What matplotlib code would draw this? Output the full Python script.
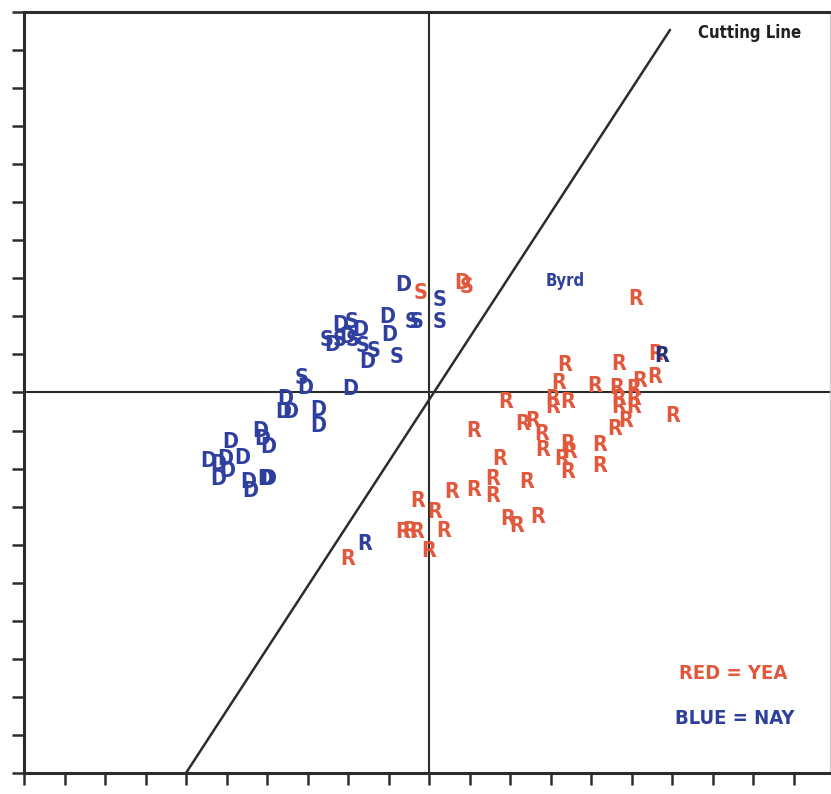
"""
Senate roll-call scatter: spatial positions of senators with the cutting line.
Letters mark party (D / R / S), colour marks the vote (red = yea, blue = nay).
"""

import matplotlib
matplotlib.use("Agg")
import matplotlib.pyplot as plt
import numpy as np


# ============================================================
# Data (first / second dimension coordinates)
# ============================================================

nay_d_x = [-0.064, -0.104, -0.099, -0.220, -0.170, -0.240, -0.202, -0.153,
           -0.306, -0.195, -0.356, -0.360, -0.343, -0.274, -0.274, -0.417,
           -0.412, -0.398, -0.491, -0.504, -0.462, -0.546, -0.521, -0.521,
           -0.499, -0.447, -0.442, -0.405, -0.398]
nay_d_y = [0.283, 0.199, 0.152, 0.178, 0.165, 0.126, 0.147, 0.079,
           0.013, 0.008, -0.018, -0.050, -0.052, -0.045, -0.089, -0.102,
           -0.123, -0.142, -0.131, -0.176, -0.171, -0.181, -0.189, -0.228,
           -0.207, -0.234, -0.260, -0.228, -0.228]

nay_s_x = [0.025, -0.042, -0.030, 0.027, -0.190, -0.252, -0.220, -0.188,
           -0.165, -0.138, -0.079, -0.314]
nay_s_y = [0.244, 0.184, 0.184, 0.184, 0.186, 0.139, 0.139, 0.139,
           0.121, 0.108, 0.092, 0.039]

nay_r_x = [-0.158, 0.575]
nay_r_y = [-0.399, 0.097]

yea_s_x = [-0.020, 0.094]
yea_s_y = [0.262, 0.278]
yea_d_x = [0.081]
yea_d_y = [0.289]

yea_r_x = [0.511, 0.336, 0.467, 0.560, 0.558, 0.521, 0.319, 0.410,
           0.464, 0.504, 0.304, 0.306, 0.341, 0.467, 0.467, 0.504,
           0.504, 0.602, 0.188, 0.486, 0.459, 0.230, 0.257, 0.279,
           0.281, 0.109, 0.422, 0.343, 0.348, 0.328, 0.341, 0.420,
           0.175, 0.242, 0.158, 0.156, 0.111, 0.057, -0.027, 0.015,
           0.035, -0.064, -0.047, -0.030, 0.000, -0.200, 0.193, 0.217,
           0.269]
yea_r_y = [0.247, 0.073, 0.076, 0.102, 0.042, 0.031, 0.024, 0.018,
           0.013, 0.008, -0.016, -0.037, -0.024, -0.016, -0.037, -0.018,
           -0.039, -0.063, -0.026, -0.076, -0.097, -0.084, -0.076, -0.110,
           -0.150, -0.102, -0.139, -0.136, -0.157, -0.176, -0.210, -0.194,
           -0.176, -0.234, -0.228, -0.273, -0.255, -0.262, -0.286, -0.315,
           -0.365, -0.367, -0.365, -0.367, -0.417, -0.438, -0.333, -0.352,
           -0.328]

# cutting line end points
cut_x = [-0.600, 0.595]
cut_y = [-1.000, 0.953]

byrd_xy = (0.336, 0.294)

RED = "#e2583c"
BLUE = "#2f3f9e"
NAVY = "#252f78"
INK = "#2a2e28"

LETTER_FONT = ["DejaVu Sans"]


def put_letters(ax, xs, ys, letter, color, size=15.5):
    for x, y in zip(xs, ys):
        ax.text(x, y, letter, color=color, fontsize=size, fontweight="bold",
                fontstretch="condensed", family=LETTER_FONT,
                ha="center", va="center")


# ============================================================
# Plot
# ============================================================

W, H = 831, 794
fig = plt.figure(figsize=(W / 100, H / 100), dpi=100)
ax = fig.add_axes([24 / W, 21 / H, (830 - 24) / W, (773 - 12) / H])
ax.set_xlim(-1.0, 0.99)
ax.set_ylim(-1.0, 1.0)

for side in ["left", "top", "bottom"]:
    ax.spines[side].set_linewidth(2.2)
    ax.spines[side].set_color(INK)
ax.spines["right"].set_linewidth(0.8)
ax.spines["right"].set_color("#c8c8c8")

ax.set_xticks(np.round(np.arange(-1.0, 0.95, 0.1), 2))
ax.set_yticks(np.round(np.arange(-1.0, 1.05, 0.1), 2))
ax.tick_params(direction="out", length=8.5, width=1.8, color=INK,
               labelbottom=False, labelleft=False)

ax.axhline(0, color=INK, lw=1.5, zorder=1)
ax.axvline(0, color=INK, lw=1.5, zorder=1)
ax.plot(cut_x, cut_y, color=INK, lw=1.8, solid_capstyle="round", zorder=1)

put_letters(ax, nay_d_x, nay_d_y, "D", BLUE)
put_letters(ax, nay_s_x, nay_s_y, "S", BLUE)
put_letters(ax, yea_r_x, yea_r_y, "R", RED)
put_letters(ax, yea_s_x, yea_s_y, "S", RED)
put_letters(ax, yea_d_x, yea_d_y, "D", RED)
put_letters(ax, nay_r_x[:1], nay_r_y[:1], "R", BLUE)
put_letters(ax, nay_r_x[1:], nay_r_y[1:], "R", NAVY)

ax.text(*byrd_xy, "Byrd", color=BLUE, fontsize=12, fontweight="bold",
        fontstretch="condensed", family=LETTER_FONT, ha="center", va="center")
ax.text(0.664, 0.945, "Cutting Line", color="#1e221c", fontsize=12,
        fontweight="bold", fontstretch="condensed", family=LETTER_FONT,
        ha="left", va="center")
ax.text(0.751, -0.738, "RED = YEA", color=RED, fontsize=14.5,
        fontweight="bold", fontstretch="condensed", family=LETTER_FONT,
        ha="center", va="center")
ax.text(0.756, -0.856, "BLUE = NAY", color=BLUE, fontsize=14.5,
        fontweight="bold", fontstretch="condensed", family=LETTER_FONT,
        ha="center", va="center")

fig.savefig("out.png", dpi=100)
